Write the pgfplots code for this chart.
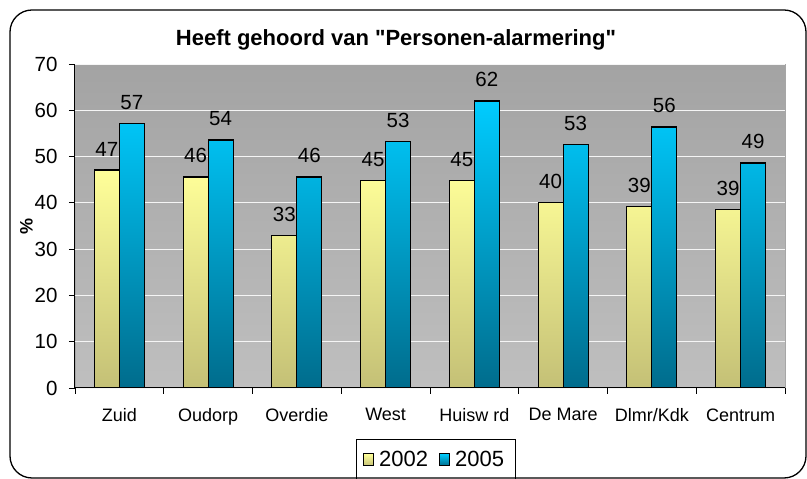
\documentclass[border=0pt]{standalone}
\usepackage{fontspec}
\setmainfont{Liberation Sans}[Ligatures=TeXOff]
\usepackage{pgfplots}
\pgfplotsset{compat=1.18}
\definecolor{yTop}{HTML}{FFFF99}
\definecolor{yBot}{HTML}{C4C076}
\definecolor{cTop}{HTML}{00CCFF}
\definecolor{cBot}{HTML}{006C8C}
\definecolor{bgTop}{HTML}{A3A3A3}
\definecolor{bgBot}{HTML}{BFBFBF}
\pgfplotsset{sqlegend/.style={legend image code/.code={\draw[##1] (0pt,-6pt) rectangle (10pt,6pt);}}}

\begin{document}
\begin{tikzpicture}
\useasboundingbox (-75pt,-91pt) rectangle (732pt,388pt);
\fill[white] (-75pt,-91pt) rectangle (732pt,388pt);
\begin{axis}[
  at={(0pt,0pt)}, anchor=south west,
  scale only axis, width=710pt, height=324pt,
  ybar=0pt, bar width=25pt,
  xmin=-0.5, xmax=7.5, ymin=0, ymax=70,
  xtick={-0.5,0.5,...,7.5},
  x tick label as interval,
  xticklabels={Zuid,Oudorp,Overdie,West,Huisw rd,De Mare,Dlmr/Kdk,Centrum},
  ytick={0,10,...,70},
  axis x line*=bottom, axis y line*=left,
  x axis line style={-, line width=1pt},
  y axis line style={-, line width=1pt},
  tick align=outside, major tick length=6pt,
  tick style={black, line width=0.8pt},
  ymajorgrids, grid style={draw=white!92!gray, line width=0.8pt},
  axis background/.style={top color=bgTop, bottom color=bgBot, draw=gray!70},
  /pgf/number format/assume math mode=true,
  xticklabel style={font=\fontsize{18}{21}\selectfont, yshift=-11pt},
  yticklabel style={font=\fontsize{20.5}{24}\selectfont, xshift=-8pt},
  ylabel={\textbf{\%}},
  ylabel shift=-5pt,
  ylabel style={font=\fontsize{18}{21}\selectfont},
  nodes near coords={\pgfmathprintnumber[fixed,precision=0]{\pgfplotspointmeta}},
  every node near coord/.append style={font=\fontsize{20.5}{24}\selectfont, yshift=10pt, black},
  legend style={at={(0.5085,-0.1574)}, anchor=north, draw=black, line width=0.8pt,
    font=\fontsize{22}{26}\selectfont, legend columns=2,
    inner xsep=6pt, inner ysep=10pt,
    nodes={inner xsep=5pt, inner ysep=2pt},
    /tikz/every even column/.append style={column sep=6pt}},
]
\addplot[draw=black, line width=1.2pt, top color=yTop, bottom color=yBot, sqlegend]
  coordinates {(0,47.1) (1,45.6) (2,33.0) (3,44.9) (4,44.9) (5,40.0) (6,39.2) (7,38.6)};
\addplot[draw=black, line width=1.2pt, top color=cTop, bottom color=cBot, sqlegend]
  coordinates {(0,57.2) (1,53.6) (2,45.6) (3,53.2) (4,62.0) (5,52.6) (6,56.4) (7,48.6)};
\legend{2002, 2005}
\end{axis}
\node[font=\bfseries\fontsize{22}{26}\selectfont] at (321pt,348pt) {Heeft gehoord van "Personen-alarmering"};
\draw[rounded corners=22pt, line width=1.3pt] (-65pt,-90pt) rectangle (731pt,378pt);
\end{tikzpicture}
\end{document}
